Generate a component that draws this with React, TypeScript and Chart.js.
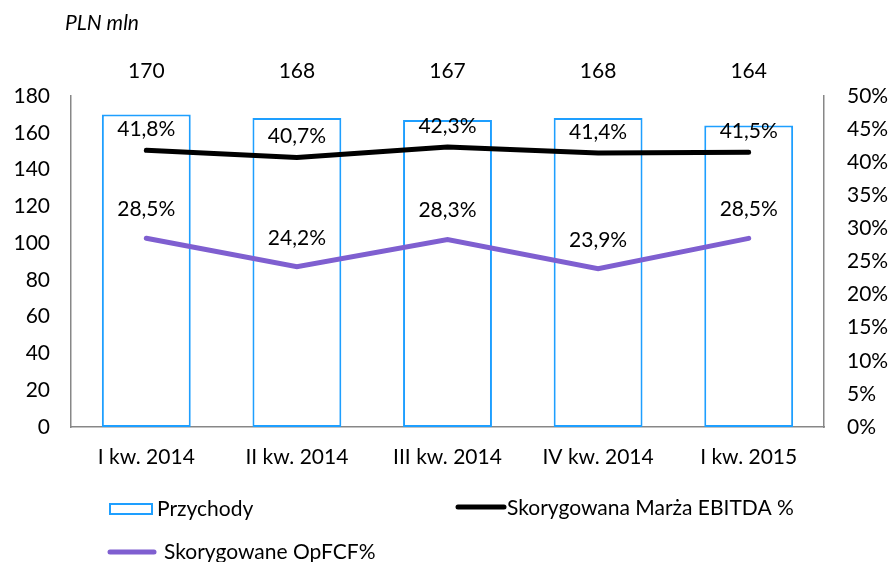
import React, { useEffect, useRef } from "react";
import { Chart, registerables } from "chart.js";

Chart.register(...registerables);

const categories = ["I kw. 2014", "II kw. 2014", "III kw. 2014", "IV kw. 2014", "I kw. 2015"];
const revenue = [170, 168, 167, 168, 164];
const ebitdaMargin = [41.8, 40.7, 42.3, 41.4, 41.5];
const opfcf = [28.5, 24.2, 28.3, 23.9, 28.5];

const FONT = "Lato, 'Open Sans', sans-serif";
const FS = 21;
const BLUE = "#1E9FFF";
const PURPLE = "#7F5FD0";
const AXIS = "#878787";

const fmtPct = (v: number) => v.toFixed(1).replace(".", ",") + "%";

const labelsPlugin = {
  id: "customLabels",
  afterDraw(chart: any) {
    const { ctx, chartArea } = chart;
    ctx.save();
    ctx.fillStyle = "#000";
    ctx.textAlign = "center";
    ctx.textBaseline = "middle";
    ctx.font = `${FS}px ${FONT}`;
    const barMeta = chart.getDatasetMeta(0);
    barMeta.data.forEach((el: any, i: number) => {
      ctx.fillText(String(revenue[i]), el.x, chartArea.top - 25);
    });
    const m1 = chart.getDatasetMeta(1);
    m1.data.forEach((el: any, i: number) => {
      ctx.fillText(fmtPct(ebitdaMargin[i]), el.x, el.y - 21);
    });
    const m2 = chart.getDatasetMeta(2);
    m2.data.forEach((el: any, i: number) => {
      ctx.fillText(fmtPct(opfcf[i]), el.x, el.y - 29);
    });
    // title
    ctx.textAlign = "left";
    ctx.font = `italic ${FS}px ${FONT}`;
    ctx.fillText("PLN mln", 65, 23);
    // legend
    ctx.font = `${FS}px ${FONT}`;
    // Przychody
    ctx.strokeStyle = BLUE;
    ctx.lineWidth = 2;
    ctx.strokeRect(110, 504, 42, 10);
    ctx.fillText("Przychody", 157, 509);
    // EBITDA
    ctx.strokeStyle = "#000";
    ctx.lineWidth = 5;
    ctx.lineCap = "round";
    ctx.beginPath();
    ctx.moveTo(458, 507);
    ctx.lineTo(504, 507);
    ctx.stroke();
    ctx.fillText("Skorygowana Marża EBITDA %", 507, 508);
    // OpFCF
    ctx.strokeStyle = PURPLE;
    ctx.beginPath();
    ctx.moveTo(110, 552);
    ctx.lineTo(154, 552);
    ctx.stroke();
    ctx.fillText("Skorygowane OpFCF%", 164, 552);
    ctx.restore();
  },
};

export default function App() {
  const ref = useRef<HTMLCanvasElement | null>(null);
  useEffect(() => {
    if (!ref.current) return;
    const chart = new Chart(ref.current, {
      type: "bar",
      data: {
        labels: categories,
        datasets: [
          {
            type: "bar",
            label: "Przychody",
            data: revenue,
            backgroundColor: "#ffffff",
            borderColor: BLUE,
            borderWidth: 2,
            borderSkipped: false,
            barPercentage: 0.59,
            categoryPercentage: 1,
            yAxisID: "y",
            order: 2,
          } as any,
          {
            type: "line",
            label: "Skorygowana Marża EBITDA %",
            data: ebitdaMargin,
            borderColor: "#000000",
            borderWidth: 5,
            borderCapStyle: "round",
            pointRadius: 0,
            tension: 0,
            yAxisID: "y1",
            order: 1,
          } as any,
          {
            type: "line",
            label: "Skorygowane OpFCF%",
            data: opfcf,
            borderColor: PURPLE,
            borderWidth: 5,
            borderCapStyle: "round",
            pointRadius: 0,
            tension: 0,
            yAxisID: "y1",
            order: 1,
          } as any,
        ],
      },
      options: {
        animation: false,
        responsive: false,
        maintainAspectRatio: false,
        layout: { padding: { top: 96, left: 0, right: 0, bottom: 0 } },
        plugins: { legend: { display: false }, tooltip: { enabled: false } },
        scales: {
          x: {
            grid: { display: false, drawTicks: false },
            border: { display: true, color: AXIS, width: 1.5 },
            ticks: { color: "#000", font: { family: FONT, size: FS }, padding: 18, maxRotation: 0 },
            afterFit: (s: any) => {
              s.height = 135;
            },
          },
          y: {
            position: "left",
            min: 0,
            max: 180,
            grid: { display: false, drawTicks: false },
            border: { display: true, color: AXIS, width: 1.5 },
            ticks: { stepSize: 20, color: "#000", font: { family: FONT, size: FS }, padding: 21 },
            afterFit: (s: any) => {
              s.width = 71;
            },
          },
          y1: {
            position: "right",
            min: 0,
            max: 50,
            grid: { display: false, drawTicks: false },
            border: { display: true, color: AXIS, width: 1.5 },
            ticks: {
              stepSize: 5,
              color: "#000",
              font: { family: FONT, size: FS },
              padding: 23,
              callback: (v: any) => v + "%",
            },
            afterFit: (s: any) => {
              s.width = 67;
            },
          },
        },
      },
      plugins: [labelsPlugin],
    });
    return () => chart.destroy();
  }, []);
  return (
    <div style={{ position: "fixed", left: 0, top: 0, width: 891, height: 562, background: "#fff" }}>
      <canvas ref={ref} width={891} height={562} style={{ width: 891, height: 562 }} />
    </div>
  );
}
